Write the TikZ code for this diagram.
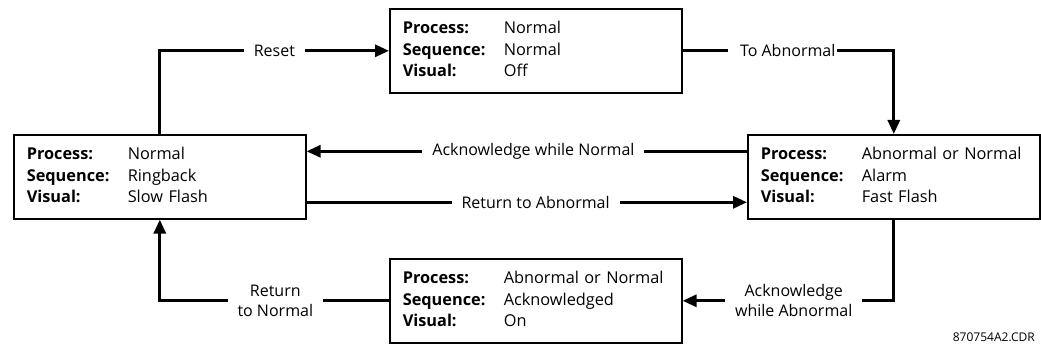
\documentclass[tikz,border=0pt]{standalone}
\usepackage{fontspec}
\setmainfont{Open Sans}
\usetikzlibrary{arrows.meta,calc}
\newcommand{\stinfo}[3]{%
 {\def\arraystretch{1}\setlength{\tabcolsep}{0pt}%
 \begin{tabular}{@{}p{101pt}@{}l@{}}
 \textbf{Process:} & #1\\
 \textbf{Sequence:} & #2\\
 \textbf{Visual:} & #3
 \end{tabular}}}
\tikzset{
 statebox/.style={draw, line width=1.6pt, anchor=north west, minimum width=292pt, minimum height=84pt,
   inner xsep=13pt, inner ysep=0pt, text width=266pt, align=left, font=\fontsize{16.3}{21.5}\selectfont},
 conn/.style={line width=3pt, line join=miter, -{Triangle[length=14pt,width=12pt]}},
 lbl/.style={fill=white, inner xsep=10pt, inner ysep=1pt, align=center, font=\fontsize{16}{20}\selectfont}
}
\begin{document}
\begin{tikzpicture}[x=1pt,y=-1pt]
\useasboundingbox (0,0) rectangle (1041,347);
\node[statebox] (top) at (389,8) {\stinfo{Normal}{Normal}{Off}};
\node[statebox] (left) at (13,134) {\stinfo{Normal}{Ringback}{Slow Flash}};
\node[statebox] (right) at (747,134) {\stinfo{Abnormal or Normal}{Alarm}{Fast Flash}};
\node[statebox] (bottom) at (389,258) {\stinfo{Abnormal or Normal}{Acknowledged}{On}};

\draw[conn] (left.north) |- node[lbl,pos=0.75]{Reset} (top.west);
\draw[conn] (top.east) -| node[lbl,pos=0.237,inner xsep=2pt]{\hspace*{10pt}To Abnormal} (right.north);
\coordinate (a1) at ($(right.west)+(0,-25.5)$);
\coordinate (a2) at ($(left.east)+(0,25.5)$);
\draw[conn] (a1) -- node[lbl,pos=0.485]{Acknowledge while Normal} (left.east |- a1);
\draw[conn] (a2) -- node[lbl,pos=0.52]{Return to Abnormal} (right.west |- a2);
\draw[conn] (right.south) |- node[lbl,pos=0.737]{Acknowledge\\while Abnormal} (bottom.east);
\draw[conn] (bottom.west) -| node[lbl,pos=0.248]{Return\\to Normal} (left.south);

\node[anchor=east, inner sep=0pt, font=\fontsize{12}{14}\selectfont] (id) at (1035,337) {870754A2.CDR};
\end{tikzpicture}
\end{document}
